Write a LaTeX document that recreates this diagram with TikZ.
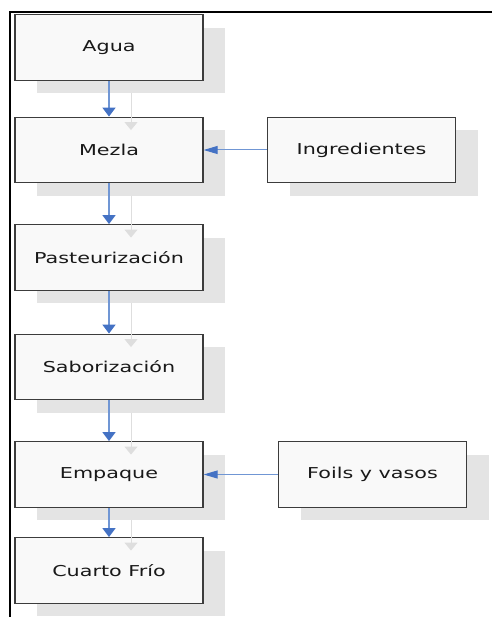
\documentclass[tikz,border=0pt]{standalone}
\usepackage{fontspec}
\setmainfont{DejaVu Sans}[FakeStretch=1.38]
\usetikzlibrary{arrows.meta}

\definecolor{boxfill}{RGB}{249,249,249}
\definecolor{boxline}{RGB}{60,60,60}
\definecolor{shade}{RGB}{228,228,228}
\definecolor{shadearrow}{RGB}{222,222,222}
\definecolor{flowline}{RGB}{112,150,212}
\definecolor{flowtip}{RGB}{68,114,196}

\tikzset{
  stepbox/.style={draw=boxline, line width=1.3pt, fill=boxfill,
    minimum width=188pt, minimum height=65.5pt, inner sep=0pt,
    font=\fontsize{15}{18}\selectfont, text=black!90},
  shadowbox/.style={fill=shade, draw=none,
    minimum width=188pt, minimum height=65.5pt, inner sep=0pt},
  downflow/.style={draw=flowline, line width=1.6pt,
    -{Triangle[length=9pt,width=13pt,color=flowtip]}},
  sideflow/.style={draw=flowline, line width=1pt,
    -{Triangle[length=14pt,width=8pt,color=flowtip]}},
  shadowflow/.style={draw=shadearrow, line width=1pt,
    -{Triangle[length=8pt,width=13pt,color=shadearrow]}},
  frameline/.style={line width=2pt, draw=black}
}

\begin{document}
\begin{tikzpicture}[x=1pt, y=-1pt]
\useasboundingbox (0,0) rectangle (492,617);

% cropped outer frame: top and left edges only
\coordinate (fTL) at (10,12);
\coordinate (fTR) at (492,12);
\coordinate (fBL) at (10,617);
\draw[frameline] (fTR) -- (fTL) -- (fBL);

% drop shadows, offset by (22,13)
\node[shadowbox] (sAgua)   at (131,60.5)  {};
\node[shadowbox] (sMezla)  at (131,163)   {};
\node[shadowbox] (sPast)   at (131,270.5) {};
\node[shadowbox] (sSabor)  at (131,380)   {};
\node[shadowbox] (sEmpaq)  at (131,487.5) {};
\node[shadowbox] (sCuarto) at (131,583.5) {};
\node[shadowbox] (sIngr)   at (383.5,163) {};
\node[shadowbox] (sFoils)  at (394.5,487.5) {};

% process steps
\node[stepbox] (agua)   at (109,47.5)  {Agua};
\node[stepbox] (mezla)  at (109,150)   {Mezla};
\node[stepbox] (past)   at (109,257.5) {Pasteurización};
\node[stepbox] (sabor)  at (109,367)   {Saborización};
\node[stepbox] (empaq)  at (109,474.5) {Empaque};
\node[stepbox] (cuarto) at (109,570.5) {Cuarto Frío};
\node[stepbox] (ingr)   at (361.5,150) {Ingredientes};
\node[stepbox] (foils)  at (372.5,474.5) {Foils y vasos};

% shadows of the vertical connectors
\draw[shadowflow] (sAgua.south)  -- (sMezla.north);
\draw[shadowflow] (sMezla.south) -- (sPast.north);
\draw[shadowflow] (sPast.south)  -- (sSabor.north);
\draw[shadowflow] (sSabor.south) -- (sEmpaq.north);
\draw[shadowflow] (sEmpaq.south) -- (sCuarto.north);

% main flow
\draw[downflow] (agua.south)  -- (mezla.north);
\draw[downflow] (mezla.south) -- (past.north);
\draw[downflow] (past.south)  -- (sabor.north);
\draw[downflow] (sabor.south) -- (empaq.north);
\draw[downflow] (empaq.south) -- (cuarto.north);

% inputs
\draw[sideflow] (ingr.west)  -- (mezla.east);
\draw[sideflow] (foils.west) -- (empaq.east);
\end{tikzpicture}
\end{document}
